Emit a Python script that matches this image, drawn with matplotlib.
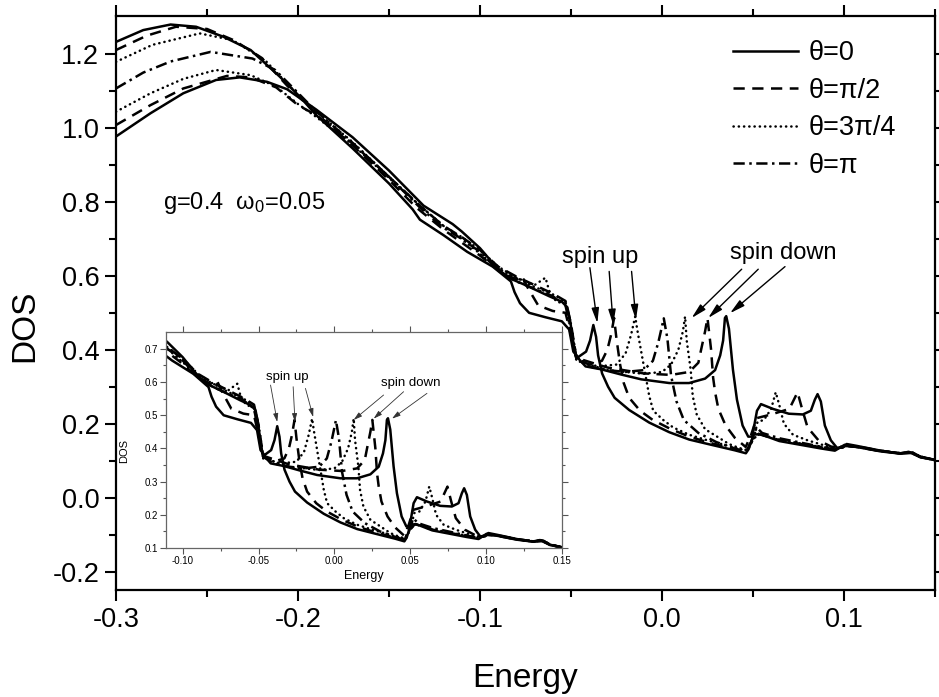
import matplotlib
matplotlib.use("Agg")
import matplotlib.pyplot as plt

plt.rcParams['font.family'] = ['Liberation Sans', 'DejaVu Sans']
plt.rcParams['mathtext.fontset'] = 'custom'
plt.rcParams['mathtext.rm'] = 'Liberation Sans'
plt.rcParams['mathtext.it'] = 'Liberation Sans'

# theta = 0, spin up
e_up0 = [-0.300, -0.285, -0.270, -0.256, -0.241, -0.226, -0.210, -0.199, -0.190, -0.170,
         -0.150, -0.137, -0.133, -0.120, -0.107, -0.100, -0.093, -0.088, -0.083, -0.081,
         -0.078, -0.073, -0.064, -0.055, -0.051, -0.0487, -0.0461, -0.0417, -0.0395, -0.0377,
         -0.0362, -0.0351, -0.0329, -0.0296, -0.0260, -0.0180, -0.0070, 0.0040, 0.0150, 0.0270,
         0.0400, 0.0461, 0.0476, 0.0504, 0.0544, 0.0645, 0.0873, 0.0950, 0.1004, 0.1070,
         0.1202, 0.1310, 0.1377, 0.1420, 0.1500]
d_up0 = [1.233, 1.265, 1.280, 1.274, 1.247, 1.211, 1.139, 1.085, 1.035, 0.945,
         0.850, 0.780, 0.752, 0.710, 0.665, 0.645, 0.625, 0.605, 0.585, 0.556,
         0.526, 0.500, 0.488, 0.477, 0.455, 0.395, 0.380, 0.395, 0.425, 0.467,
         0.435, 0.385, 0.336, 0.300, 0.270, 0.237, 0.203, 0.177, 0.157, 0.143,
         0.128, 0.120, 0.131, 0.171, 0.171, 0.153, 0.133, 0.127, 0.143, 0.137,
         0.125, 0.119, 0.121, 0.110, 0.102]

# theta = 0, spin down
e_dn0 = [-0.300, -0.281, -0.263, -0.245, -0.232, -0.217, -0.206, -0.190, -0.170, -0.150,
         -0.131, -0.115, -0.110, -0.100, -0.093, -0.088, -0.083, -0.075, -0.062, -0.055,
         -0.052, -0.0505, -0.049, -0.0475, -0.042, -0.0333, -0.0224, -0.0114, 0.004, 0.0149,
         0.0237, 0.0292, 0.032, 0.0336, 0.0346, 0.0353, 0.0368, 0.039, 0.0412, 0.0443,
         0.0474, 0.0496, 0.0522, 0.0544, 0.061, 0.0697, 0.0774, 0.0818, 0.084, 0.0855,
         0.0873, 0.0895, 0.0928, 0.0961, 0.0993, 0.1015, 0.107, 0.1202, 0.131, 0.1355,
         0.1377, 0.142, 0.150]
d_dn0 = [0.977, 1.040, 1.094, 1.130, 1.137, 1.125, 1.105, 1.050, 0.975, 0.885,
         0.790, 0.740, 0.720, 0.675, 0.635, 0.610, 0.592, 0.575, 0.545, 0.530,
         0.515, 0.480, 0.430, 0.385, 0.355, 0.347, 0.333, 0.320, 0.310, 0.310,
         0.322, 0.345, 0.385, 0.425, 0.486, 0.491, 0.457, 0.346, 0.265, 0.195,
         0.165, 0.165, 0.235, 0.253, 0.240, 0.227, 0.225, 0.235, 0.265, 0.280,
         0.260, 0.195, 0.155, 0.135, 0.135, 0.145, 0.140, 0.127, 0.119, 0.124,
         0.119, 0.109, 0.102]

# theta = pi/2, spin up
e_up90 = [-0.300, -0.283, -0.267, -0.250, -0.235, -0.220, -0.206, -0.190, -0.170, -0.150,
          -0.135, -0.120, -0.110, -0.100, -0.090, -0.080, -0.077, -0.074, -0.068, -0.060,
          -0.053, -0.050, -0.047, -0.040, -0.033, -0.030, -0.028, -0.0263, -0.025, -0.023,
          -0.021, -0.018, -0.012, -0.005, 0.005, 0.015, 0.025, 0.035, 0.046, 0.049,
          0.053, 0.065, 0.080, 0.095, 0.100, 0.107, 0.120, 0.131, 0.1375, 0.142, 0.150]
d_up90 = [1.211, 1.250, 1.274, 1.268, 1.237, 1.190, 1.115, 1.040, 0.953, 0.860,
          0.785, 0.725, 0.690, 0.655, 0.615, 0.590, 0.600, 0.570, 0.520, 0.505,
          0.500, 0.440, 0.375, 0.360, 0.370, 0.400, 0.440, 0.486, 0.430, 0.360,
          0.310, 0.270, 0.235, 0.210, 0.185, 0.165, 0.150, 0.137, 0.123, 0.150,
          0.172, 0.155, 0.142, 0.130, 0.140, 0.137, 0.126, 0.120, 0.122, 0.111, 0.102]

# theta = pi/2, spin down
e_dn90 = [-0.300, -0.281, -0.263, -0.239, -0.226, -0.212, -0.200, -0.190, -0.170, -0.150,
          -0.133, -0.120, -0.110, -0.100, -0.090, -0.080, -0.070, -0.060, -0.053, -0.050,
          -0.047, -0.030, -0.010, 0.005, 0.015, 0.020, 0.0215, 0.0237, 0.0250, 0.0270,
          0.0281, 0.0292, 0.031, 0.035, 0.040, 0.046, 0.049, 0.052, 0.060, 0.070,
          0.0745, 0.077, 0.080, 0.086, 0.093, 0.098, 0.102, 0.110, 0.120, 0.131,
          0.1365, 0.142, 0.150]
d_dn90 = [1.008, 1.062, 1.107, 1.141, 1.137, 1.110, 1.062, 1.035, 0.958, 0.868,
          0.790, 0.735, 0.705, 0.670, 0.625, 0.598, 0.575, 0.552, 0.532, 0.470,
          0.378, 0.352, 0.336, 0.332, 0.340, 0.365, 0.400, 0.450, 0.486, 0.400,
          0.325, 0.285, 0.240, 0.195, 0.162, 0.137, 0.170, 0.215, 0.225, 0.240,
          0.285, 0.240, 0.190, 0.155, 0.138, 0.134, 0.142, 0.136, 0.127, 0.120,
          0.123, 0.110, 0.101]

# theta = 3pi/4, spin up
e_up135 = [-0.300, -0.280, -0.254, -0.236, -0.218, -0.204, -0.190, -0.170, -0.150, -0.133,
           -0.120, -0.110, -0.100, -0.090, -0.080, -0.070, -0.064, -0.062, -0.058, -0.053,
           -0.050, -0.047, -0.035, -0.025, -0.020, -0.017, -0.0147, -0.0136, -0.0114, -0.009,
           -0.007, -0.0048, 0.0007, 0.0061, 0.015, 0.025, 0.035, 0.046, 0.049, 0.053,
           0.065, 0.080, 0.095, 0.100, 0.107, 0.120, 0.131, 0.137, 0.142, 0.150]
d_up135 = [1.179, 1.225, 1.256, 1.238, 1.183, 1.110, 1.045, 0.962, 0.868, 0.790,
           0.735, 0.700, 0.660, 0.620, 0.595, 0.575, 0.595, 0.560, 0.530, 0.525,
           0.450, 0.370, 0.355, 0.360, 0.390, 0.440, 0.490, 0.455, 0.395, 0.330,
           0.275, 0.235, 0.210, 0.190, 0.170, 0.155, 0.142, 0.127, 0.150, 0.173,
           0.156, 0.143, 0.131, 0.141, 0.138, 0.126, 0.120, 0.124, 0.111, 0.102]

# theta = 3pi/4, spin down
e_dn135 = [-0.300, -0.281, -0.263, -0.245, -0.226, -0.212, -0.200, -0.190, -0.170, -0.150,
           -0.133, -0.120, -0.110, -0.100, -0.090, -0.080, -0.070, -0.060, -0.053, -0.050,
           -0.047, -0.040, -0.030, -0.010, 0.000, 0.005, 0.009, 0.0115, 0.0127, 0.0136,
           0.0158, 0.0169, 0.0191, 0.0237, 0.0303, 0.0368, 0.042, 0.047, 0.0505, 0.0525,
           0.056, 0.060, 0.0625, 0.0645, 0.067, 0.072, 0.080, 0.090, 0.097, 0.101,
           0.110, 0.120, 0.131, 0.136, 0.142, 0.150]
d_dn135 = [1.044, 1.094, 1.133, 1.157, 1.143, 1.112, 1.065, 1.030, 0.955, 0.865,
           0.790, 0.735, 0.705, 0.670, 0.625, 0.595, 0.570, 0.550, 0.530, 0.470,
           0.380, 0.360, 0.345, 0.335, 0.340, 0.360, 0.400, 0.450, 0.490, 0.425,
           0.345, 0.275, 0.225, 0.185, 0.165, 0.145, 0.135, 0.128, 0.160, 0.205,
           0.210, 0.240, 0.285, 0.250, 0.200, 0.170, 0.155, 0.140, 0.133, 0.142,
           0.136, 0.127, 0.120, 0.123, 0.110, 0.101]

# theta = pi (both spins coincide)
e_pi = [-0.300, -0.285, -0.270, -0.248, -0.225, -0.2125, -0.203, -0.190, -0.170, -0.150,
        -0.133, -0.120, -0.110, -0.100, -0.090, -0.080, -0.070, -0.060, -0.053, -0.050,
        -0.047, -0.040, -0.030, -0.020, -0.010, -0.005, -0.002, 0.001, 0.003, 0.005,
        0.008, 0.012, 0.020, 0.030, 0.040, 0.046, 0.049, 0.052, 0.055, 0.065,
        0.080, 0.095, 0.100, 0.108, 0.120, 0.131, 0.137, 0.142, 0.150]
d_pi = [1.107, 1.150, 1.180, 1.206, 1.188, 1.157, 1.110, 1.045, 0.960, 0.868,
        0.785, 0.730, 0.700, 0.665, 0.615, 0.585, 0.565, 0.545, 0.520, 0.450,
        0.375, 0.355, 0.345, 0.340, 0.345, 0.370, 0.420, 0.485, 0.430, 0.330,
        0.260, 0.210, 0.175, 0.150, 0.133, 0.125, 0.150, 0.190, 0.175, 0.160,
        0.145, 0.130, 0.140, 0.137, 0.126, 0.120, 0.123, 0.111, 0.101]

labels = ['θ=0', 'θ=π/2', 'θ=3π/4', 'θ=π']

ls_solid = '-'
ls_dash = (0, (4.5, 3.0))
ls_dot = (0, (0.1, 2.0))
ls_dashdot = (0, (4.5, 1.8, 1.0, 1.8))

curves = [
    (e_up0, d_up0, ls_solid, labels[0]),
    (e_dn0, d_dn0, ls_solid, None),
    (e_up90, d_up90, ls_dash, labels[1]),
    (e_dn90, d_dn90, ls_dash, None),
    (e_up135, d_up135, ls_dot, labels[2]),
    (e_dn135, d_dn135, ls_dot, None),
    (e_pi, d_pi, ls_dashdot, labels[3]),
]

fig = plt.figure(figsize=(9.39, 6.97), dpi=100)
ax = fig.add_axes([0.1235, 0.1535, 0.8722, 0.8235])

for e, d, ls, lab in curves:
    ax.plot(e, d, color='k', lw=1.8, linestyle=ls, label=lab,
            dash_capstyle='round' if ls is ls_dot else 'butt')

ax.set_xlim(-0.3, 0.15)
ax.set_ylim(-0.25, 1.303)
ax.set_xticks([-0.3, -0.2, -0.1, 0.0, 0.1])
ax.set_xticklabels(['-0.3', '-0.2', '-0.1', '0.0', '0.1'])
ax.set_xticks([-0.25, -0.15, -0.05, 0.05, 0.15], minor=True)
ax.set_yticks([-0.2, 0.0, 0.2, 0.4, 0.6, 0.8, 1.0, 1.2])
ax.set_yticklabels(['-0.2', '0.0', '0.2', '0.4', '0.6', '0.8', '1.0', '1.2'])
ax.set_yticks([-0.1, 0.1, 0.3, 0.5, 0.7, 0.9, 1.1], minor=True)
ax.tick_params(which='both', direction='out', top=True, right=True, width=1.5,
               labelsize=19.5, pad=4)
ax.tick_params(which='major', length=8)
ax.tick_params(which='minor', length=5)
for s in ax.spines.values():
    s.set_linewidth(1.6)

ax.set_xlabel('Energy', fontsize=24)
ax.set_ylabel('DOS', fontsize=24)
ax.xaxis.set_label_coords(0.5, -0.127)
ax.yaxis.set_label_coords(-0.092, 0.46)

ax.legend(loc='upper right', bbox_to_anchor=(0.982, 1.0), frameon=False,
          fontsize=19.5, handlelength=2.4, handletextpad=0.4, labelspacing=0.42)

ax.text(-0.274, 0.797, 'g=0.4  ω$_0$=0.05', fontsize=17, ha='left', va='center')

arw = dict(arrowstyle='-|>,head_length=0.9,head_width=0.22', color='k', lw=1.0,
           shrinkA=0, shrinkB=0)
ax.text(-0.0341, 0.651, 'spin up', fontsize=17, ha='center', va='center')
for (x0, y0), (x1, y1) in [((-0.0396, 0.622), (-0.0355, 0.472)),
                           ((-0.0290, 0.612), (-0.0268, 0.468)),
                           ((-0.0167, 0.612), (-0.0143, 0.481))]:
    ax.annotate('', xy=(x1, y1), xytext=(x0, y0), arrowprops=arw)
ax.text(0.0665, 0.662, 'spin down', fontsize=17, ha='center', va='center')
for (x0, y0), (x1, y1) in [((0.0438, 0.618), (0.0163, 0.486)),
                           ((0.0529, 0.618), (0.0254, 0.486)),
                           ((0.0676, 0.625), (0.0374, 0.499))]:
    ax.annotate('', xy=(x1, y1), xytext=(x0, y0), arrowprops=arw)

# inset: same data, zoomed
ins = fig.add_axes([0.1768, 0.2138, 0.4217, 0.3099])
for e, d, ls, lab in curves:
    ins.plot(e, d, color='k', lw=1.8, linestyle=ls,
             dash_capstyle='round' if ls is ls_dot else 'butt')
ins.set_xlim(-0.111, 0.15)
ins.set_ylim(0.1, 0.751)
ins.set_xticks([-0.10, -0.05, 0.0, 0.05, 0.10, 0.15])
ins.set_xticklabels(['-0.10', '-0.05', '0.00', '0.05', '0.10', '0.15'])
ins.set_xticks([-0.075, -0.025, 0.025, 0.075, 0.125], minor=True)
ins.set_yticks([0.1, 0.2, 0.3, 0.4, 0.5, 0.6, 0.7])
ins.set_yticklabels(['0.1', '0.2', '0.3', '0.4', '0.5', '0.6', '0.7'])
ins.set_yticks([0.15, 0.25, 0.35, 0.45, 0.55, 0.65], minor=True)
ins.tick_params(which='both', direction='out', top=True, right=True, width=0.8,
                color='#555555', labelsize=7, pad=2)
ins.tick_params(which='major', length=4)
ins.tick_params(which='minor', length=2.5)
for s in ins.spines.values():
    s.set_linewidth(0.9)
    s.set_color('#666666')
ins.set_xlabel('Energy', fontsize=9)
ins.set_ylabel('DOS', fontsize=8)
ins.xaxis.set_label_coords(0.5, -0.1)
ins.yaxis.set_label_coords(-0.093, 0.45)

arw2 = dict(arrowstyle='-|>,head_length=0.5,head_width=0.15', color='#333333', lw=0.6,
            shrinkA=0, shrinkB=0)
ins.text(-0.0309, 0.616, 'spin up', fontsize=9.5, ha='center', va='center')
for (x0, y0), (x1, y1) in [((-0.0421, 0.591), (-0.0377, 0.480)),
                           ((-0.0272, 0.586), (-0.0260, 0.480)),
                           ((-0.0191, 0.581), (-0.0140, 0.495))]:
    ins.annotate('', xy=(x1, y1), xytext=(x0, y0), arrowprops=arw2)
ins.text(0.0505, 0.596, 'spin down', fontsize=9.5, ha='center', va='center')
for (x0, y0), (x1, y1) in [((0.0324, 0.561), (0.0127, 0.486)),
                           ((0.0456, 0.571), (0.0259, 0.490)),
                           ((0.0610, 0.566), (0.0380, 0.490))]:
    ins.annotate('', xy=(x1, y1), xytext=(x0, y0), arrowprops=arw2)

fig.savefig('out.png', dpi=100)
